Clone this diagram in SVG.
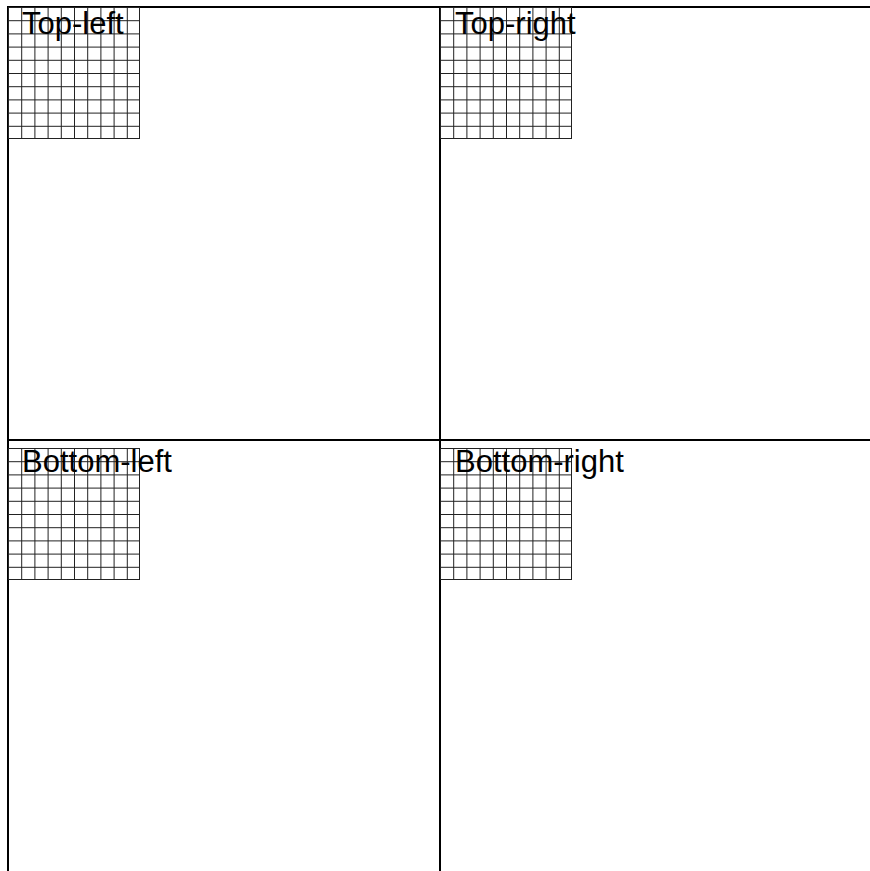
<svg xmlns="http://www.w3.org/2000/svg" xmlns:xlink="http://www.w3.org/1999/xlink" width="870" height="871" viewBox="0 0 870 871">
<style>
.frame{stroke:#000;stroke-width:2;fill:none}
.grid{stroke:#222;stroke-width:1;fill:none}
.lbl{font-family:"Liberation Sans",Arial,sans-serif;font-size:31px;fill:#000}
</style>
<defs>
<g id="gridTile">
<path class="grid" d="M0,0.5H132M0,13.7H132M0,26.9H132M0,40.1H132M0,53.3H132M0,66.5H132M0,79.7H132M0,92.9H132M0,106.1H132M0,119.3H132M0,131.5H132M0.5,0V132M13.7,0V132M26.9,0V132M40.1,0V132M53.3,0V132M66.5,0V132M79.7,0V132M92.9,0V132M106.1,0V132M119.3,0V132M131.5,0V132"/>
</g>
</defs>
<rect width="870" height="871" fill="#fff"/>
<g id="frame">
<path class="frame" d="M8,7H870M8,440H870M8,6V871M440,7V871"/>
</g>
<g id="top-left">
<use xlink:href="#gridTile" x="8" y="7"/>
<text class="lbl" x="22" y="34">Top-left</text>
</g>
<g id="top-right">
<use xlink:href="#gridTile" x="440" y="7"/>
<text class="lbl" x="455" y="34">Top-right</text>
</g>
<g id="bottom-left">
<use xlink:href="#gridTile" x="8" y="448"/>
<text class="lbl" x="22" y="472">Bottom-left</text>
</g>
<g id="bottom-right">
<use xlink:href="#gridTile" x="440" y="448"/>
<text class="lbl" x="455" y="472">Bottom-right</text>
</g>
</svg>
